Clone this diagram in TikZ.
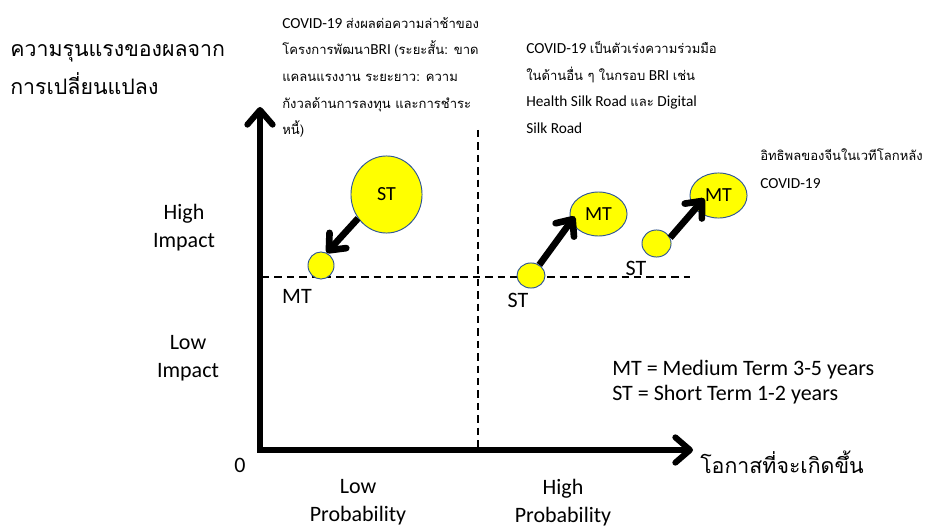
\documentclass[tikz,border=0pt]{standalone}
\usepackage{fontspec}
\setmainfont{Carlito}
\newfontfamily\thaifont[Script=Thai]{Loma}
\usetikzlibrary{arrows.meta,shapes.geometric}
\definecolor{bubline}{RGB}{47,85,151}
\definecolor{bubfill}{RGB}{255,255,0}
\newcommand\thx[1]{{\thaifont\fontsize{9.8}{20}\selectfont #1}}
\begin{document}
\begin{tikzpicture}[x=0.75pt,y=-0.75pt,
  axisline/.style={line width=4.5pt, line join=miter,
    {Straight Barb[length=11pt,width=19pt,round]}-{Straight Barb[length=11pt,width=19pt,round]}},
  trend/.style={line width=5pt, -{Straight Barb[length=10pt,width=17pt,round]}},
  dashline/.style={line width=1.1pt, dash pattern=on 5.5pt off 3.8pt},
  bub/.style={ellipse, draw=bubline, fill=bubfill, line width=0.7pt, inner sep=0pt,
    font=\fontsize{15}{18}\selectfont},
  anno/.style={align=left, inner sep=0pt, font=\fontsize{11.5}{20}\selectfont},
  lbl/.style={align=center, inner sep=0pt, font=\fontsize{16.5}{21}\selectfont},
  tag/.style={inner sep=0pt, font=\fontsize{16.5}{20}\selectfont},
  thaititle/.style={inner sep=0pt, font=\thaifont\fontsize{16}{20}\selectfont},
]
\useasboundingbox (0,0) rectangle (930,527);

% axes and guide lines
\coordinate (O) at (260,450);
\coordinate (ytop) at (260,107);
\coordinate (xend) at (693,450);
\coordinate (vtop) at (478,130);
\coordinate (vbot) at (478,450);
\coordinate (hl) at (262,277);
\coordinate (hr) at (690,277);
\draw[dashline] (vtop) -- (vbot);
\draw[dashline] (hl) -- (hr);
\draw[axisline] (ytop) -- (O) -- (xend);

% bubbles
\node[bub, minimum width=53.3pt, minimum height=57.8pt] (bigST) at (386.5,194.5) {ST};
\node[bub, minimum width=19.5pt, minimum height=20.3pt] (mtL) at (321,265.5) {};
\node[bub, minimum width=21pt, minimum height=18.8pt] (stM) at (531,275.5) {};
\node[bub, minimum width=42.8pt, minimum height=33pt] (mtM) at (598.5,214) {MT};
\node[bub, minimum width=21.8pt, minimum height=20.3pt] (stR) at (656.5,243.5) {};
\node[bub, minimum width=42.8pt, minimum height=33.8pt] (mtR) at (718.5,195.5) {MT};

% trend arrows
\draw[trend] (bigST.220) -- (mtL.66);
\draw[trend, shorten >=-4.5pt] (stM.52) -- (mtM.195);
\draw[trend, shorten >=-10.5pt] (stR.23) -- (mtR.210);

% bubble tags
\node[tag] (tagMTL) at (297,296) {MT};
\node[tag] (tagSTM) at (518,300) {ST};
\node[tag] (tagSTR) at (636,268) {ST};

% annotations
\node[anno, anchor=north west] (noteA) at (282,17) {COVID-19 \thx{ส่งผลต่อความล่าช้าของ}\\
  \thx{โครงการพัฒนา}BRI \thx{(ระยะสั้น: ขาด}\\
  \thx{แคลนแรงงาน ระยะยาว: ความ}\\
  \thx{กังวลด้านการลงทุน และการชำระ}\\
  \thx{หนี้)}};
\node[anno, anchor=north west] (noteB) at (526,41) {COVID-19 \thx{เป็นตัวเร่งความร่วมมือ}\\
  \thx{ในด้านอื่น ๆ ในกรอบ} BRI \thx{เช่น}\\
  Health Silk Road \thx{และ} Digital\\
  Silk Road};
\node[anno, anchor=north west, font=\fontsize{11.5}{21}\selectfont] (noteC) at (760,148) {\thx{อิทธิพลของจีนในเวทีโลกหลัง}\\
  COVID-19};

% axis titles
\node[thaititle, anchor=base west] (ytitleA) at (10,57) {ความรุนแรงของผลจาก};
\node[thaititle, anchor=base west] (ytitleB) at (10,95) {การเปลี่ยนแปลง};
\node[thaititle, anchor=west] (xtitle) at (700,462) {โอกาสที่จะเกิดขึ้น};
\node[tag] (zero) at (240,465) {0};

% level labels
\node[lbl] (hiImp) at (184,228) {High\\Impact};
\node[lbl] (loImp) at (188,358.5) {Low\\Impact};
\node[lbl] (loProb) at (358,502.5) {Low\\Probability};
\node[lbl] (hiProb) at (563,502.5) {High\\Probability};

% legend
\node[align=left, inner sep=0pt, anchor=west, font=\fontsize{16.5}{18.75}\selectfont] (legend) at (612,382.5)
  {MT = Medium Term 3-5 years\\ST = Short Term 1-2 years};
\end{tikzpicture}
\end{document}
